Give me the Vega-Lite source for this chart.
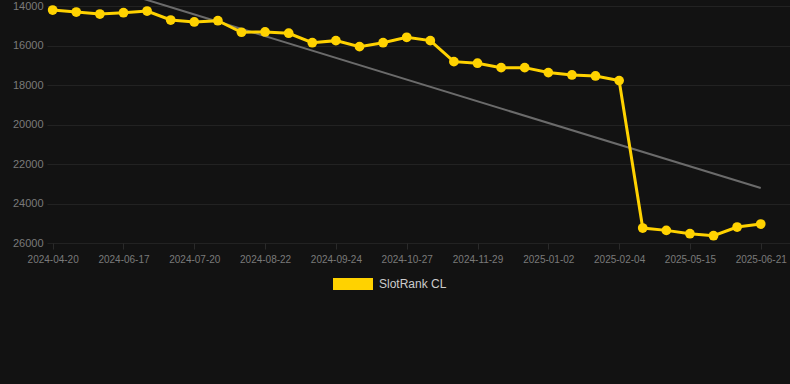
{
  "$schema": "https://vega.github.io/schema/vega-lite/v6.json",
  "width": 743,
  "height": 243,
  "autosize": {"type": "none"},
  "padding": {"left": 47, "top": 0, "right": 0, "bottom": 141},
  "background": "#121212",
  "config": {
    "view": {"stroke": null},
    "font": "Liberation Sans",
    "axis": {"gridColor": "#222222", "gridWidth": 1, "domain": false, "labelColor": "#7a7a7a", "tickColor": "#2a2a2a"}
  },
  "datasets": {
    "rank": [
      {"date": "2024-04-20", "rank": 14190},
      {"date": "2024-05-09", "rank": 14290},
      {"date": "2024-05-28", "rank": 14390},
      {"date": "2024-06-17", "rank": 14325},
      {"date": "2024-06-28", "rank": 14240},
      {"date": "2024-07-09", "rank": 14695},
      {"date": "2024-07-20", "rank": 14795},
      {"date": "2024-07-31", "rank": 14730},
      {"date": "2024-08-11", "rank": 15315},
      {"date": "2024-08-22", "rank": 15300},
      {"date": "2024-09-02", "rank": 15365},
      {"date": "2024-09-13", "rank": 15845},
      {"date": "2024-09-24", "rank": 15740},
      {"date": "2024-10-05", "rank": 16045},
      {"date": "2024-10-16", "rank": 15845},
      {"date": "2024-10-27", "rank": 15570},
      {"date": "2024-11-07", "rank": 15740},
      {"date": "2024-11-18", "rank": 16805},
      {"date": "2024-11-29", "rank": 16885},
      {"date": "2024-12-10", "rank": 17110},
      {"date": "2024-12-21", "rank": 17110},
      {"date": "2025-01-02", "rank": 17360},
      {"date": "2025-01-13", "rank": 17480},
      {"date": "2025-01-24", "rank": 17530},
      {"date": "2025-02-04", "rank": 17765},
      {"date": "2025-04-03", "rank": 25240},
      {"date": "2025-04-24", "rank": 25360},
      {"date": "2025-05-15", "rank": 25530},
      {"date": "2025-05-27", "rank": 25630},
      {"date": "2025-06-09", "rank": 25190},
      {"date": "2025-06-21", "rank": 25040}
    ],
    "trend": [
      {"date": "2024-04-20", "rank": 12210},
      {"date": "2025-06-21", "rank": 23215}
    ]
  },
  "layer": [
    {
      "data": {"name": "trend"},
      "mark": {"type": "line", "color": "#6b6b6b", "strokeWidth": 2, "clip": true},
      "encoding": {
        "x": {"field": "date", "type": "ordinal"},
        "y": {"field": "rank", "type": "quantitative"}
      }
    },
    {
      "data": {"name": "rank"},
      "mark": {"type": "line", "strokeWidth": 3, "point": {"filled": true, "size": 95, "opacity": 1}},
      "encoding": {
        "x": {
          "field": "date", "type": "ordinal",
          "scale": {
            "type": "point", "padding": 0.24,
            "domain": ["2024-04-20", "2024-05-09", "2024-05-28", "2024-06-17", "2024-06-28", "2024-07-09", "2024-07-20", "2024-07-31", "2024-08-11", "2024-08-22", "2024-09-02", "2024-09-13", "2024-09-24", "2024-10-05", "2024-10-16", "2024-10-27", "2024-11-07", "2024-11-18", "2024-11-29", "2024-12-10", "2024-12-21", "2025-01-02", "2025-01-13", "2025-01-24", "2025-02-04", "2025-04-03", "2025-04-24", "2025-05-15", "2025-05-27", "2025-06-09", "2025-06-21", "~"]
          },
          "axis": {
            "title": null, "labelAngle": 0, "labelAlign": "center", "labelFontSize": 10, "labelPadding": 10, "tickSize": 6,
            "values": ["2024-04-20", "2024-06-17", "2024-07-20", "2024-08-22", "2024-09-24", "2024-10-27", "2024-11-29", "2025-01-02", "2025-02-04", "2025-05-15", "2025-06-21"]
          }
        },
        "y": {
          "field": "rank", "type": "quantitative",
          "scale": {"domain": [13680, 26000], "reverse": true, "nice": false, "zero": false},
          "axis": {"title": null, "values": [14000, 16000, 18000, 20000, 22000, 24000, 26000], "format": "d", "labelFontSize": 11, "ticks": false, "labelPadding": 4}
        },
        "color": {
          "datum": "SlotRank CL", "type": "nominal",
          "scale": {"range": ["#FFD200"]},
          "legend": {
            "title": null, "orient": "none", "legendX": 286, "legendY": 264,
            "symbolType": "M-1,-0.3H1V0.3H-1Z", "symbolSize": 1600, "symbolStrokeWidth": 0,
            "labelColor": "#cccccc", "labelFontSize": 12, "labelOffset": 6
          }
        }
      }
    }
  ]
}
